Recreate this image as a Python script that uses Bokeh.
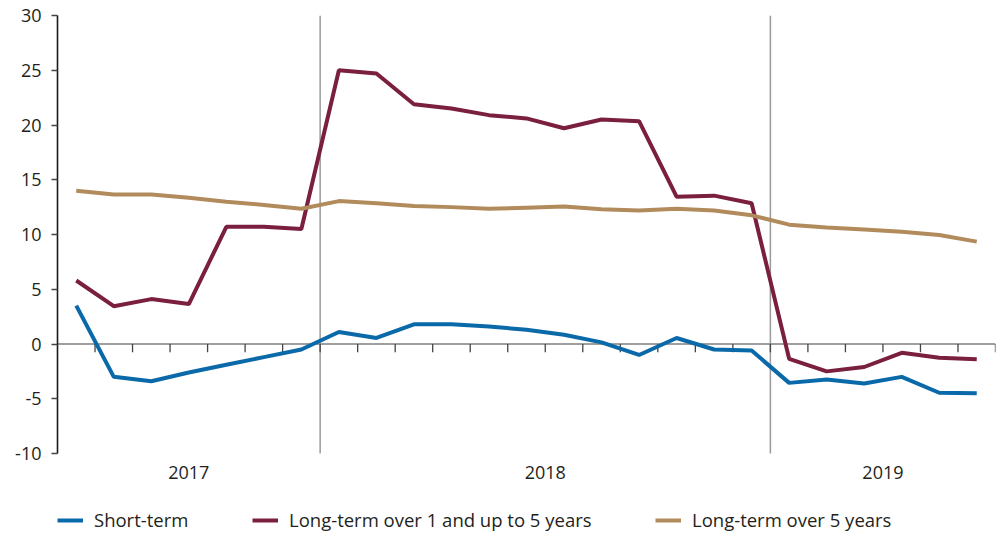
from bokeh.plotting import figure
from bokeh.models import FixedTicker, Legend, LegendItem, ColumnDataSource, Range1d
from bokeh.core.properties import value
from bokeh.embed import file_html
from bokeh.resources import INLINE

# ---- data ----
months = ["2017-06", "2017-07", "2017-08", "2017-09", "2017-10", "2017-11", "2017-12",
          "2018-01", "2018-02", "2018-03", "2018-04", "2018-05", "2018-06",
          "2018-07", "2018-08", "2018-09", "2018-10", "2018-11", "2018-12",
          "2019-01", "2019-02", "2019-03", "2019-04", "2019-05", "2019-06"]
years = ["2017", "2018", "2019"]
short_term = [3.5, -3.0, -3.4, -2.6, -1.9, -1.2, -0.5, 1.1, 0.55, 1.8, 1.8, 1.6, 1.3,
              0.85, 0.15, -1.0, 0.55, -0.5, -0.6, -3.55, -3.25, -3.6, -3.0, -4.45, -4.5]
long_1_5 = [5.8, 3.45, 4.1, 3.65, 10.7, 10.7, 10.5, 25.0, 24.7, 21.9, 21.5, 20.9, 20.6,
            19.7, 20.5, 20.35, 13.45, 13.55, 12.85, -1.35, -2.5, -2.1, -0.8, -1.25, -1.4]
long_over_5 = [14.0, 13.65, 13.65, 13.35, 13.0, 12.7, 12.35, 13.05, 12.85, 12.6, 12.5, 12.35, 12.45,
               12.55, 12.3, 12.2, 12.35, 12.2, 11.75, 10.9, 10.65, 10.45, 10.25, 9.95, 9.35]
y_ticks = [-10, -5, 0, 5, 10, 15, 20, 25, 30]
y_tick_labels = ["-10", "-5", "0", "5", "10", "15", "20", "25", "30"]
series_names = ["Short-term", "Long-term over 1 and up to 5 years", "Long-term over 5 years"]

# ---- derived positions ----
n = len(months)
xs = list(range(n))
year_counts = [sum(1 for m in months if m.startswith(y)) for y in years]
year_starts = []
acc = 0
for c in year_counts:
    year_starts.append(acc)
    acc += c
year_centers = [s + (c - 1) / 2 for s, c in zip(year_starts, year_counts)]
separators = [s - 0.5 for s in year_starts[1:]]
boundaries = [i + 0.5 for i in range(n)]

y_lo, y_hi = y_ticks[0], y_ticks[-1]
W, H = 1001, 537
TOP, LEFT, RIGHT = 15, 57, 6
AXIS_PX = 438                      # pixel height of the -10..30 span
frame_h = H - TOP
y_start = y_lo - (frame_h - AXIS_PX) * (y_hi - y_lo) / AXIS_PX

FONT = "Open Sans"
TXT = "#231f20"
colors = ["#0a69a9", "#7a1f3f", "#b18b5c"]

p = figure(width=W, height=H, output_backend="svg", toolbar_location=None,
           x_axis_location=None,
           x_range=Range1d(-0.5, n - 0.5), y_range=Range1d(y_start, y_hi),
           min_border_left=LEFT, min_border_right=RIGHT, min_border_top=TOP, min_border_bottom=0)
p.outline_line_color = None
p.grid.visible = False
p.background_fill_color = "white"
p.border_fill_color = "white"

# separators between years
p.segment(x0=separators, y0=[y_lo] * len(separators),
          x1=separators, y1=[y_hi] * len(separators),
          line_color="#9a9a9a", line_width=1.5)
# zero line
p.segment(x0=[-0.5], y0=[0], x1=[n - 0.5], y1=[0], line_color="#7f7f7f", line_width=1.6)
# month ticks
p.segment(x0=boundaries, y0=[0] * n, x1=boundaries, y1=[-0.75] * n,
          line_color="#444444", line_width=1.3)

src = ColumnDataSource(dict(x=xs, s=short_term, l=long_1_5, g=long_over_5))
r1 = p.line("x", "s", source=src, line_color=colors[0], line_width=4)
r2 = p.line("x", "l", source=src, line_color=colors[1], line_width=4)
r3 = p.line("x", "g", source=src, line_color=colors[2], line_width=4)

# year labels under the axis
p.text(x=year_centers, y=[y_lo] * len(years), text=years, y_offset=12,
       text_align="center", text_baseline="top", text_font=value(FONT),
       text_font_size="18px", text_color=TXT)

# y axis
p.yaxis.bounds = (y_lo, y_hi)
p.yaxis.ticker = FixedTicker(ticks=y_ticks)
p.yaxis.major_label_overrides = {t: s for t, s in zip(y_ticks, y_tick_labels)}
p.yaxis.axis_line_color = "#1a1a1a"
p.yaxis.axis_line_width = 1.6
p.yaxis.major_tick_line_color = "#444444"
p.yaxis.major_tick_line_width = 1.3
p.yaxis.major_tick_out = 6
p.yaxis.major_tick_in = 0
p.yaxis.minor_tick_line_color = None
p.yaxis.major_label_standoff = 10
p.yaxis.major_label_text_font = FONT
p.yaxis.major_label_text_font_size = "18px"
p.yaxis.major_label_text_color = TXT

# legends
legend_x = [0, 195, 598]
for name, r, lx in zip(series_names, [r1, r2, r3], legend_x):
    lg = Legend(items=[LegendItem(label=name, renderers=[r])], location=(lx, 5),
                orientation="horizontal", padding=0, margin=0, border_line_color=None,
                background_fill_alpha=0, glyph_width=26, glyph_height=20, label_height=20,
                label_standoff=11, label_text_font=FONT, label_text_font_size="18.5px",
                label_text_color=TXT, label_text_baseline="middle")
    p.add_layout(lg, "center")

open("out.html", "w").write(file_html(p, INLINE))
